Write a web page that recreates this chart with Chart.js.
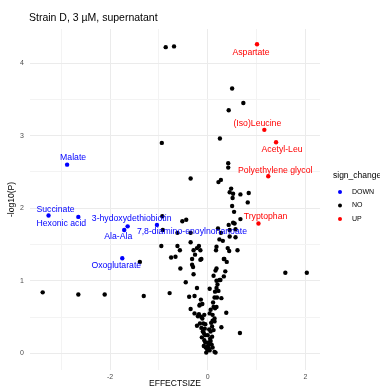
<!DOCTYPE html>
<html>
<head>
<meta charset="utf-8">
<script src="https://cdn.jsdelivr.net/npm/chart.js@4"></script>
<style>
  body { margin: 0; background: #fff; }
  #wrap { width: 380px; height: 389px; position: relative; }
</style>
</head>
<body>
<div id="wrap"><canvas id="volcano"></canvas></div>
<script>
// values
const chartTitle = 'Strain D, 3 µM, supernatant';

const downNames = ['Malate', 'Succinate', 'Hexonic acid', '3-hydoxydethiobiotin', 'Ala-Ala', '7,8-diamino-enoylnonanoate', 'Oxoglutarate'];
const downX = [-2.88, -3.26, -2.65, -1.64, -1.71, -1.04, -1.75];
const downY = [2.60, 1.90, 1.88, 1.75, 1.70, 1.77, 1.31];

const upNames = ['Aspartate', '(Iso)Leucine', 'Acetyl-Leu', 'Polyethylene glycol', 'Tryptophan'];
const upX = [1.01, 1.16, 1.40, 1.24, 1.04];
const upY = [4.26, 3.08, 2.91, 2.44, 1.79];

const noX = [-0.86, -0.69, -0.94, -0.35, 0.50, 0.73, 0.43, 0.25, 0.42, 0.42, 0.22, 0.27, 0.48, 0.45, 0.52, 0.67, 0.84, 0.51,
  0.50, 0.82, 0.54, 0.67, 0.55, 0.52, 0.43, 0.21, -0.52, -0.44, -0.35, 0.27, 0.45, 0.57, 0.24, 0.31, 0.45, 0.57, 0.18, 0.41,
  0.44, 0.61, 0.17, 0.33, 0.39, 0.18, -0.15, -0.15, -0.93, -0.95, -0.62, -0.57, -0.35, -0.18, -0.22, -0.29, -0.26, -0.13,
  -0.75, -0.66, -0.32, -0.56, -0.30, -1.39, -0.92, -0.62, -0.45, -3.38, -2.65, -2.11, -1.31, -0.78, -0.38, -0.27, -0.22,
  -0.35, -0.27, -0.20, -0.22, -0.16, -0.16, -0.29, 0.04, -0.14, -0.11, -0.17, -0.18, -0.13, -0.11, -0.05, -0.08, -0.05,
  0.16, 0.36, 0.12, 0.24, 0.18, 0.18, 0.14, 0.19, 0.28, 0.15, 0.18, 0.10, 0.14, 0.38, -0.09, 0.28, 0.09, 0.66, 0.06, 0.09,
  -0.05, 0.01, 0.06, -0.01, 0.16, -0.03, 0.02, 1.59, 2.03, 0.33, 0.26, 0.34, -0.07, 0.12, 0.14, -0.32, 0.14,
  -0.10, -0.12, 0.03, 0.05, -0.07, 0.00, 0.08, -0.04, 0.04, 0.10, -0.08, 0.02, -0.06, 0.07, 0.12, -0.13, 0.10, 0.04, 0.11,
  0.15, 0.22, 0.20, 0.06];
const noY = [4.22, 4.23, 2.90, 2.41, 3.65, 3.45, 3.35, 2.96, 2.62, 2.56, 2.36, 2.39, 2.27, 2.22, 2.20, 2.19, 2.21, 2.14,
  2.03, 2.08, 1.95, 1.85, 1.79, 1.80, 1.77, 1.72, 1.82, 1.84, 1.66, 1.66, 1.70, 1.71, 1.57, 1.55, 1.61, 1.60, 1.47, 1.45,
  1.41, 1.42, 1.42, 1.30, 1.26, 1.17, 1.42, 1.29, 1.89, 1.48, 1.48, 1.42, 1.53, 1.48, 1.45, 1.42, 1.36, 1.30,
  1.32, 1.33, 1.30, 1.17, 1.19, 1.26, 1.70, 1.66, 0.98, 0.84, 0.81, 0.81, 0.79, 0.83, 0.78, 0.79, 0.90,
  0.61, 0.55, 0.51, 0.38, 0.41, 0.67, 1.09, 0.89, 0.74, 0.68, 0.66, 0.54, 0.50, 0.48, 0.40, 0.28, 0.25,
  1.14, 1.13, 1.07, 1.01, 1.00, 0.90, 0.77, 0.77, 0.76, 0.62, 0.64, 0.53, 0.48, 0.56, 0.41, 0.36, 0.37, 0.28, 0.30, 0.23,
  0.15, 0.11, 0.17, 0.05, 0.01, 0.01, 0.07, 1.11, 1.11, 1.06, 1.01, 1.30, 0.53, 0.64, 0.44, 1.22, 0.02,
  0.30, 0.22, 0.33, 0.20, 0.18, 0.25, 0.12, 0.08, 0.04, 0.08, 0.10, 0.15, 0.34, 0.42, 0.32, 0.35, 0.45, 0.55, 0.70,
  0.85, 0.86, 0.95, 0.60];

const legendLabels = ['DOWN', 'NO', 'UP'];
const legendColors = ['#0000ff', '#000000', '#ff0000'];

// label nudges in pixels (ggrepel placement)
const downNudge = [[6, -7], [7, -6], [-17, 7], [4, -8], [-6, 7], [35, 7], [-6, 7]];
const upNudge = [[-6, 8], [-7, -6], [6, 7], [7, -6], [7, -7]];

const FONT = "'Liberation Sans', Arial, sans-serif";

const toPts = (xs, ys) => xs.map((x, i) => ({ x: x, y: ys[i] }));

const textLayer = {
  id: 'textLayer',
  afterDatasetsDraw(chart) {
    const c = chart.ctx;
    c.save();
    c.textAlign = 'center';
    c.textBaseline = 'middle';
    c.font = '8.7px ' + FONT;
    const drawLabels = (dsIndex, names, nudge, color) => {
      const meta = chart.getDatasetMeta(dsIndex);
      c.fillStyle = color;
      names.forEach((n, i) => {
        const p = meta.data[i];
        c.fillText(n, p.x + nudge[i][0], p.y + nudge[i][1]);
      });
    };
    drawLabels(0, downNames, downNudge, '#0000ff');
    drawLabels(2, upNames, upNudge, '#ff0000');

    // title
    c.textAlign = 'left';
    c.fillStyle = '#000';
    c.font = '10.5px ' + FONT;
    c.fillText(chartTitle, 29, 18);

    // legend
    const lx = chart.chartArea.right + 13;
    c.font = '8.5px ' + FONT;
    c.fillText('sign_change', lx, 176);
    c.font = '7px ' + FONT;
    legendLabels.forEach((l, i) => {
      const y = 192 + i * 13.5;
      c.fillStyle = legendColors[i];
      c.beginPath();
      c.arc(lx + 7, y, 2, 0, Math.PI * 2);
      c.fill();
      c.fillStyle = '#000';
      c.fillText(l, lx + 19, y);
    });
    c.restore();
  }
};

new Chart(document.getElementById('volcano'), {
  type: 'scatter',
  data: {
    datasets: [
      { label: 'DOWN', data: toPts(downX, downY), backgroundColor: '#0000ff' },
      { label: 'NO', data: toPts(noX, noY), backgroundColor: '#000000' },
      { label: 'UP', data: toPts(upX, upY), backgroundColor: '#ff0000' }
    ]
  },
  options: {
    responsive: true,
    maintainAspectRatio: false,
    animation: false,
    layout: { padding: { top: 29, right: 60, left: 0, bottom: 0 } },
    elements: { point: { radius: 2.2, borderWidth: 0, hoverRadius: 2.2 } },
    plugins: { legend: { display: false }, tooltip: { enabled: false } },
    scales: {
      x: {
        type: 'linear',
        min: -3.64,
        max: 2.30,
        border: { display: false },
        grid: {
          drawTicks: false,
          color: ctx => (ctx.tick && ctx.tick.value % 2 === 0) ? '#ebebeb' : '#f3f3f3'
        },
        ticks: {
          stepSize: 1,
          includeBounds: false,
          autoSkip: false,
          maxRotation: 0,
          padding: 3,
          color: '#4d4d4d',
          font: { family: FONT, size: 7 },
          callback: v => (v % 2 === 0 ? String(v) : '')
        },
        title: {
          display: true,
          text: 'EFFECTSIZE',
          color: '#000',
          font: { family: FONT, size: 8.5 },
          padding: { top: 0, bottom: 0 }
        },
        afterFit: s => { s.height = 19; }
      },
      y: {
        type: 'linear',
        min: -0.23,
        max: 4.47,
        border: { display: false },
        grid: {
          drawTicks: false,
          color: ctx => (ctx.tick && Number.isInteger(ctx.tick.value)) ? '#ebebeb' : '#f3f3f3'
        },
        ticks: {
          stepSize: 0.5,
          includeBounds: false,
          autoSkip: false,
          padding: 6,
          color: '#4d4d4d',
          font: { family: FONT, size: 7 },
          callback: v => (Number.isInteger(v) ? String(v) : '')
        },
        title: {
          display: true,
          text: '-log10(P)',
          color: '#000',
          font: { family: FONT, size: 8.5 },
          padding: { top: 7, bottom: 0 }
        },
        afterFit: s => { s.width = 30; }
      }
    }
  },
  plugins: [textLayer]
});
</script>
</body>
</html>
